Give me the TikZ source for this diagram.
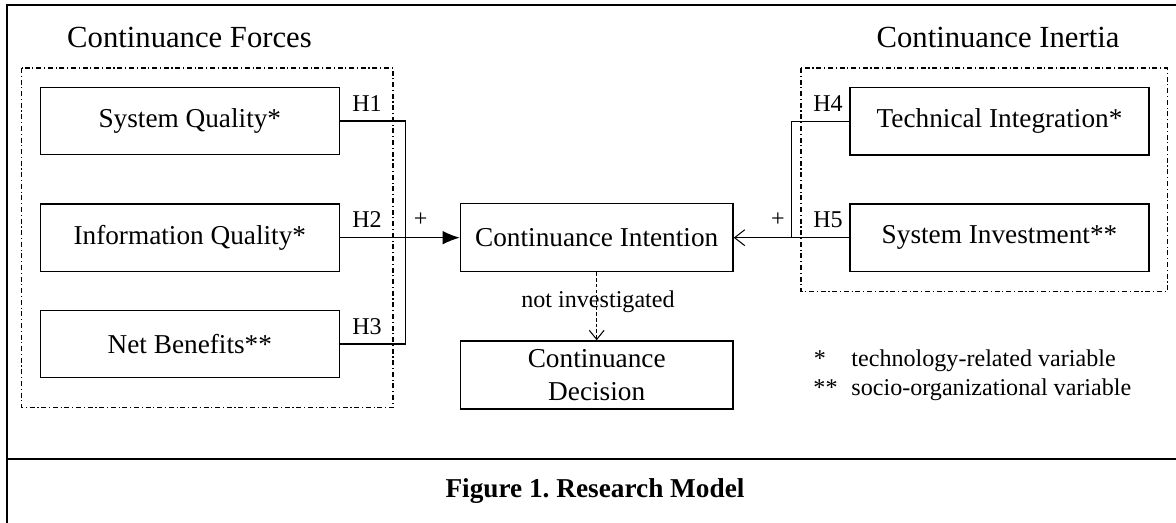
\documentclass[tikz,border=0pt]{standalone}
\usepackage{fontspec}
\setmainfont{Liberation Serif}
\frenchspacing
\usetikzlibrary{arrows.meta}
\tikzset{
  var/.style={draw, line width=0.6pt, inner sep=0pt, minimum width=131.5pt, minimum height=29.5pt, font=\fontsize{12}{14}\selectfont},
  mid/.style={var, minimum width=120pt, minimum height=30pt, align=center},
  small/.style={font=\fontsize{10.6}{12}\selectfont, inner sep=0pt},
  conn/.style={line width=0.45pt},
  group/.style={line width=0.45pt, dash pattern=on 2.2pt off 1.2pt on 0.5pt off 1.2pt},
  frame/.style={line width=1pt}
}
\begin{document}
\begin{tikzpicture}[x=0.44pt, y=-0.44pt]
    \useasboundingbox (0,0) rectangle (1176,523);
    %\draw [help lines] (0,0) grid[step=100] (1176,523);
    % frame
    \draw[frame] (1176,5) -- (7,5) -- (7,523);
    \draw[frame] (7,459) -- (1176,459);
    % group titles and dash-dot boxes
    \node[font=\fontsize{13.5}{16}\selectfont] (forces) at (189.5,37) {Continuance Forces};
    \node[font=\fontsize{13.5}{16}\selectfont] (inertia) at (998,37) {Continuance Inertia};
    \draw[group] (21.7,68) rectangle (393,407.7);
    \draw[group] (801,68) rectangle (1167,291.7);
    % variables
    \node[var] (sq) at (189.8,121) {System Quality*};
    \node[var] (iq) at (189.8,237.7) {Information Quality*};
    \node[var] (nb) at (189.8,344) {Net Benefits**};
    \node[var] (ti) at (999.5,121.3) {Technical Integration*};
    \node[var] (si) at (999.5,237.7) {System Investment**};
    \node[mid] (ci) at (596.7,237.7) {Continuance Intention};
    \node[mid, font=\fontsize{12}{14.5}\selectfont] (cd) at (596.7,375) {Continuance\\Decision};
    % links
    \coordinate (jl) at (405.7,237.7);
    \coordinate (jr) at (791.7,237.7);
    \draw[conn] (sq.east) -| (jl);
    \draw[conn] (nb.east) -| (jl);
    \draw[conn, -{Latex[length=7.5pt, width=6pt]}] (iq.east) -- (ci.west);
    \draw[conn] (ti.west) -| (jr);
    \draw[conn, -{Straight Barb[length=4.5pt, width=7pt]}] (si.west) -- (ci.east);
    \draw[conn, dash pattern=on 1.6pt off 0.9pt, -{Straight Barb[length=4pt, width=6.5pt]}] (ci.south) -- (cd.north);
    % labels
    \node[small] (h1) at (367,104) {H1};
    \node[small] (h2) at (367,220) {H2};
    \node[small] (h3) at (367,327) {H3};
    \node[small] (h4) at (828,104) {H4};
    \node[small] (h5) at (828,220) {H5};
    \node[small] (pl) at (420.7,220) {+};
    \node[small] (pr) at (778,220) {+};
    \node[small] (ni) at (598,301.7) {not investigated};
    % legend
    \node[small, anchor=base] (s1) at (820,366.7) {*};
    \node[small, anchor=base west] (l1) at (851,366.7) {technology-related variable};
    \node[small, anchor=base] (s2) at (825.5,395.7) {**};
    \node[small, anchor=base west] (l2) at (851,395.7) {socio-organizational variable};
    % caption
    \node[font=\bfseries\fontsize{12}{14}\selectfont] (cap) at (595,491) {Figure 1. Research Model};
\end{tikzpicture}
\end{document}
